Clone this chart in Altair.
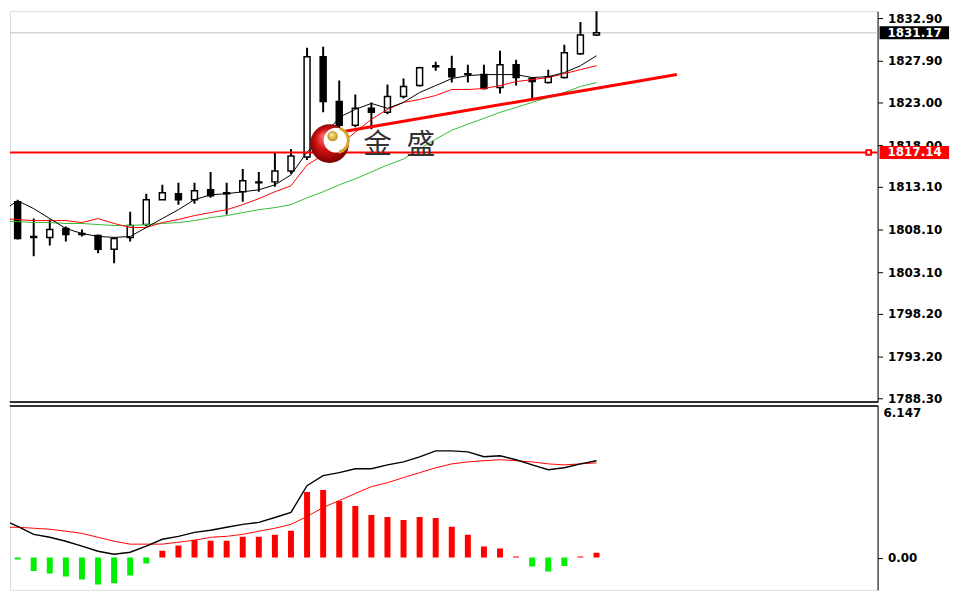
import altair as alt
import pandas as pd

# ---------------- data ----------------
bar_index = list(range(38))
open_px = [1813.46, 1811.37, 1807.29, 1807.18, 1808.22, 1807.64, 1807.41, 1805.78, 1807.18, 1808.69,
           1811.60, 1812.30, 1811.60, 1812.76, 1812.41, 1812.53, 1813.58, 1813.69, 1814.97, 1816.60,
           1828.36, 1823.12, 1820.33, 1822.31, 1821.84, 1823.70, 1824.98, 1827.31, 1826.96, 1826.38,
           1826.27, 1824.75, 1827.43, 1825.80, 1825.33, 1825.92, 1828.71, 1830.92]
high_px = [1814.04, 1811.60, 1809.39, 1809.27, 1808.46, 1808.11, 1807.53, 1807.18, 1810.20, 1812.30,
           1813.34, 1813.58, 1813.58, 1814.86, 1813.58, 1815.21, 1814.86, 1817.07, 1817.54, 1829.41,
           1829.52, 1825.57, 1823.94, 1823.01, 1825.10, 1825.80, 1827.20, 1827.78, 1828.48, 1827.43,
           1827.43, 1829.06, 1828.01, 1825.92, 1826.85, 1829.76, 1832.43, 1833.83]
low_px = [1810.78, 1806.94, 1804.96, 1806.24, 1806.71, 1807.29, 1805.31, 1804.15, 1806.71, 1808.46,
          1811.60, 1811.02, 1811.13, 1811.83, 1809.85, 1811.37, 1812.53, 1813.11, 1814.63, 1816.25,
          1821.84, 1820.10, 1820.10, 1819.86, 1821.61, 1823.47, 1824.87, 1826.73, 1825.33, 1825.33,
          1824.52, 1824.05, 1824.98, 1823.35, 1825.22, 1825.80, 1828.59, 1830.80]
close_px = [1811.37, 1807.06, 1807.18, 1808.11, 1807.53, 1807.53, 1805.78, 1807.06, 1808.57, 1811.60,
            1812.41, 1811.60, 1812.65, 1812.06, 1812.30, 1813.81, 1813.69, 1814.97, 1816.72, 1828.36,
            1823.12, 1820.33, 1822.31, 1821.84, 1823.70, 1824.87, 1827.08, 1827.20, 1826.03, 1826.27,
            1824.64, 1827.43, 1825.92, 1825.45, 1826.03, 1828.83, 1830.92, 1831.17]

ma_fast = [1810.20, 1811.48, 1810.55, 1809.39, 1808.22, 1807.64, 1807.29, 1807.18, 1807.29, 1808.34,
           1809.39, 1810.43, 1811.60, 1812.18, 1812.30, 1812.53, 1812.76, 1813.34, 1814.51, 1817.19,
           1818.93, 1821.26, 1822.19, 1822.89, 1822.31, 1823.01, 1824.17, 1824.98, 1825.80, 1826.15,
           1826.27, 1826.27, 1826.27, 1825.92, 1826.03, 1826.50, 1827.31, 1828.48]
ma_mid = [1809.39, 1809.27, 1809.15, 1809.15, 1809.15, 1808.92, 1809.39, 1808.81, 1808.34, 1808.34,
          1808.92, 1809.27, 1809.74, 1810.09, 1810.43, 1811.02, 1811.72, 1812.53, 1813.23, 1815.67,
          1816.84, 1818.00, 1819.51, 1821.03, 1822.19, 1823.01, 1823.35, 1823.82, 1824.52, 1824.52,
          1824.64, 1824.98, 1825.45, 1825.68, 1825.92, 1826.38, 1826.85, 1827.31]
ma_slow = [1809.04, 1809.04, 1808.92, 1808.92, 1808.81, 1808.81, 1808.69, 1808.57, 1808.57, 1808.69,
           1808.81, 1808.92, 1809.15, 1809.50, 1809.74, 1810.09, 1810.43, 1810.67, 1811.02, 1811.83,
           1812.53, 1813.34, 1814.04, 1814.86, 1815.67, 1816.37, 1817.54, 1818.70, 1819.75, 1820.45,
           1821.14, 1821.84, 1822.42, 1823.01, 1823.59, 1824.17, 1824.87, 1825.33]

macd_main = [1.56, 1.28, 0.95, 0.83, 0.67, 0.47, 0.26, 0.14, 0.22, 0.47,
             0.75, 0.87, 1.03, 1.12, 1.24, 1.36, 1.44, 1.64, 1.85, 2.94,
             3.35, 3.47, 3.63, 3.63, 3.79, 3.91, 4.12, 4.36, 4.36, 4.32,
             4.12, 4.16, 4.00, 3.79, 3.59, 3.67, 3.83, 3.96]
macd_signal = [1.24, 1.24, 1.20, 1.16, 1.08, 0.99, 0.83, 0.67, 0.55, 0.55,
               0.55, 0.63, 0.71, 0.83, 0.87, 0.95, 1.08, 1.20, 1.36, 1.68,
               2.05, 2.33, 2.62, 2.90, 3.06, 3.27, 3.47, 3.67, 3.83, 3.91,
               3.96, 4.00, 3.96, 3.91, 3.83, 3.79, 3.83, 3.87]
macd_hist = [0.53, -0.08, -0.55, -0.65, -0.77, -0.89, -1.10, -1.05, -0.73, -0.24,
             0.28, 0.49, 0.73, 0.69, 0.69, 0.85, 0.85, 0.93, 1.10, 2.68,
             2.76, 2.31, 2.11, 1.74, 1.66, 1.54, 1.66, 1.62, 1.26, 0.93,
             0.45, 0.37, 0.05, -0.36, -0.57, -0.34, 0.05, 0.20]

price_ticks = [1832.90, 1827.90, 1823.00, 1818.00, 1813.10, 1808.10, 1803.10, 1798.20, 1793.20, 1788.30]
macd_ticks = [0.0]
macd_top_label = ["6.147"]
macd_top_value = [6.147]
last_price = [1831.17]
level_price = [1817.14]
trend_i = [21, 42]
trend_p = [1819.51, 1826.27]
logo_text = ["金\u2002盛"]
logo_text_i = [22.5]
logo_text_p = [1818.0]
logo_ball_i = [20.4, 20.8, 20.59]
logo_ball_p = [1818.18, 1818.58, 1819.05]

# ---------------- layout ----------------
W = 874
H1 = 394
H2 = 186
TAG_X1 = 876
TAG_X2 = 946
x_dom = [0.525, 54.48]
p_dom = [1787.85, 1833.71]
m_dom = [-1.318, 6.227]

df = pd.DataFrame({"i": bar_index, "open": open_px, "high": high_px, "low": low_px,
                   "close": close_px, "ma_fast": ma_fast, "ma_mid": ma_mid, "ma_slow": ma_slow,
                   "macd": macd_main, "signal": macd_signal, "hist": macd_hist})

xs = alt.Scale(domain=x_dom, nice=False, zero=False, padding=0)
ys = alt.Scale(domain=p_dom, nice=False, zero=False, padding=0)
ms = alt.Scale(domain=m_dom, nice=False, zero=False, padding=0)

axis_style = dict(orient="right", title=None, grid=False, domainColor="black", domainWidth=1,
                  tickColor="black", tickSize=5, labelPadding=5, labelFont="DejaVu Sans",
                  labelFontSize=12, labelFontWeight="bold", labelColor="black",
                  labelFlush=False, labelOverlap=False, labelBound=False, format=".2f")
yaxis = alt.Axis(values=price_ticks, **axis_style)
maxis = alt.Axis(values=macd_ticks, **axis_style)

X = alt.X("i:Q", scale=xs, axis=None)
base = alt.Chart(df)

def PY(field):
    return alt.Y(field, type="quantitative", scale=ys, axis=yaxis)

def MY(field):
    return alt.Y(field, type="quantitative", scale=ms, axis=maxis)

# price panel
gray_line = alt.Chart(pd.DataFrame({"p": last_price})).mark_rule(color="#c0c0c0", strokeWidth=1).encode(
    y=PY("p"), x=alt.value(0), x2=alt.value(W))
wick = base.mark_rule(color="black", strokeWidth=2, clip=True).encode(x=X, y=PY("low"), y2="high:Q")
body = base.mark_bar(size=6, stroke="black", strokeWidth=1.5, clip=True).encode(
    x=X, y=PY("open"), y2="close:Q",
    fill=alt.condition(alt.datum.close < alt.datum.open, alt.value("black"), alt.value("white")))
l_fast = base.mark_line(color="black", strokeWidth=1, clip=True).encode(x=X, y=PY("ma_fast"))
l_mid = base.mark_line(color="#ff0000", strokeWidth=1, clip=True).encode(x=X, y=PY("ma_mid"))
l_slow = base.mark_line(color="#33bb33", strokeWidth=1, clip=True).encode(x=X, y=PY("ma_slow"))
level_df = pd.DataFrame({"p": level_price})
level_line = alt.Chart(level_df).mark_rule(color="#ff0000", strokeWidth=2).encode(
    y=PY("p"), x=alt.value(0), x2=alt.value(W))
level_marker = alt.Chart(level_df).mark_point(shape="square", filled=True, fill="white", stroke="#ff0000",
                                              strokeWidth=2, size=22, opacity=1).encode(
    y=PY("p"), x=alt.value(865))
trend = alt.Chart(pd.DataFrame({"i": trend_i, "p": trend_p})).mark_line(color="#ff0000", strokeWidth=3).encode(
    x=alt.X("i:Q", scale=xs, axis=None), y=PY("p"))

logo_df = pd.DataFrame({"i": logo_ball_i, "p": logo_ball_p, "k": ["sphere", "hole", "ball"]})
sphere = alt.Chart(logo_df).transform_filter(alt.datum.k == "sphere").mark_circle(
    size=1520, opacity=1,
    fill={"gradient": "radial", "x1": 0.35, "y1": 0.3, "r1": 0.02, "x2": 0.5, "y2": 0.5, "r2": 0.55,
          "stops": [{"offset": 0, "color": "#ff7070"}, {"offset": 0.5, "color": "#d01010"},
                    {"offset": 1, "color": "#6e0000"}]}).encode(
    x=alt.X("i:Q", scale=xs, axis=None), y=PY("p"))
hole = alt.Chart(logo_df).transform_filter(alt.datum.k == "hole").mark_circle(
    size=620, opacity=1, color="white").encode(x=alt.X("i:Q", scale=xs, axis=None), y=PY("p"))
ring = alt.Chart(logo_df).transform_filter(alt.datum.k == "hole").mark_arc(
    radius=11, radius2=14, theta=0.3, theta2=2.9, color="#d4a52a").encode(
    x=alt.X("i:Q", scale=xs, axis=None), y=PY("p"))
ball = alt.Chart(logo_df).transform_filter(alt.datum.k == "ball").mark_circle(
    size=110, opacity=1,
    fill={"gradient": "radial", "x1": 0.4, "y1": 0.35, "r1": 0.02, "x2": 0.5, "y2": 0.5, "r2": 0.55,
          "stops": [{"offset": 0, "color": "#fff0a0"}, {"offset": 1, "color": "#b8860b"}]}).encode(
    x=alt.X("i:Q", scale=xs, axis=None), y=PY("p"))
logo_label = alt.Chart(pd.DataFrame({"i": logo_text_i, "p": logo_text_p, "t": logo_text})).mark_text(
    align="left", baseline="middle", fontSize=29, font="Noto Sans CJK SC", color="#333333").encode(
    x=alt.X("i:Q", scale=xs, axis=None), y=PY("p"), text="t:N")

def price_tag(values, bg):
    d = pd.DataFrame({"p": values, "t": [f"{v:.2f}" for v in values]})
    box = alt.Chart(d).mark_rule(color=bg, strokeWidth=13, strokeCap="butt").encode(
        y=PY("p"), x=alt.value(TAG_X1), x2=alt.value(TAG_X2))
    txt = alt.Chart(d).mark_text(align="left", baseline="middle", font="DejaVu Sans", fontSize=12,
                                 fontWeight="bold", color="white").encode(
        y=PY("p"), x=alt.value(884), text="t:N")
    return box + txt

bottom_sep = alt.Chart(df).mark_rule(color="#333333", strokeWidth=1).encode(
    x=alt.value(0), x2=alt.value(W), y=alt.value(H1 - 0.5))

price = alt.layer(gray_line, wick, body, l_slow, l_mid, l_fast, level_line, trend,
                  sphere, hole, ring, ball, logo_label, level_marker,
                  price_tag(last_price, "black"), price_tag(level_price, "#ff0000"),
                  bottom_sep).properties(width=W, height=H1)

# MACD panel
hist = base.mark_bar(size=6, clip=True).encode(
    x=X, y=MY("hist"), y2=alt.datum(0),
    color=alt.condition(alt.datum.hist > 0, alt.value("#ff0000"), alt.value("#00ee00")))
m_line = base.mark_line(color="black", strokeWidth=1.4, clip=True).encode(x=X, y=MY("macd"))
s_line = base.mark_line(color="#ff0000", strokeWidth=1, clip=True).encode(x=X, y=MY("signal"))
top_lbl = alt.Chart(pd.DataFrame({"v": macd_top_value, "t": macd_top_label})).mark_text(
    align="left", baseline="top", dy=1, font="DejaVu Sans", fontSize=12, fontWeight="bold",
    color="black").encode(y=MY("v"), x=alt.value(880), text="t:N")
top_sep = alt.Chart(df).mark_rule(color="#333333", strokeWidth=1).encode(
    x=alt.value(0), x2=alt.value(W), y=alt.value(0.5))

macd = alt.layer(hist, s_line, m_line, top_lbl, top_sep).properties(width=W, height=H2)

chart = alt.vconcat(price, macd, spacing=3, bounds="flush").resolve_scale(
    x="independent", y="independent").properties(padding=0).configure_view(
    strokeWidth=0, stroke="transparent").configure(background="white")

chart.save("out.html", embed_options={"renderer": "svg", "actions": False})
